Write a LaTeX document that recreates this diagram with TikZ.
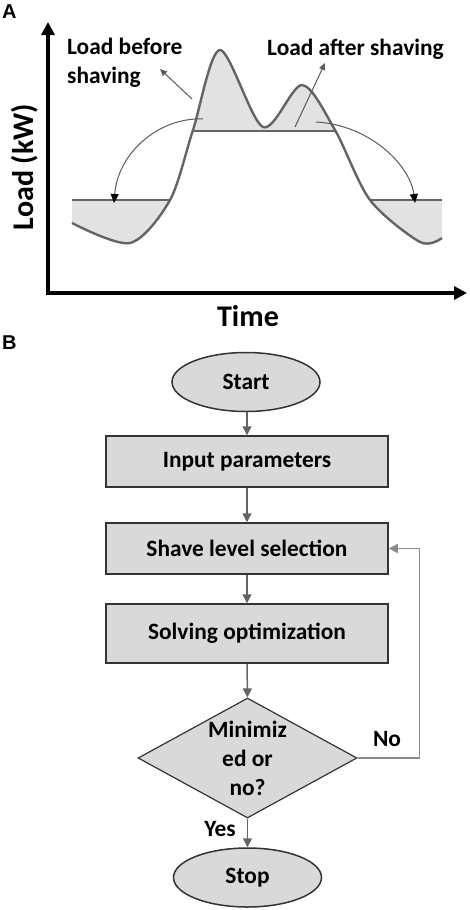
\documentclass[tikz,border=0pt]{standalone}
\usepackage{fontspec}
\setmainfont{Carlito}
\newfontfamily\arialfont{Liberation Sans}
\usetikzlibrary{shapes.geometric,arrows.meta}
\definecolor{boxfill}{RGB}{217,217,217}
\definecolor{boxdraw}{RGB}{51,51,51}
\definecolor{conn}{RGB}{100,100,100}
\definecolor{fbcol}{RGB}{140,140,140}
\definecolor{curvecol}{RGB}{100,100,100}
\definecolor{curvefill}{RGB}{226,226,226}
\definecolor{annot}{RGB}{90,90,90}
\begin{document}
\begin{tikzpicture}[x=1pt,y=-1pt,
  lbl/.style={font=\fontsize{23.4}{29}\selectfont\bfseries},
  biglbl/.style={font=\fontsize{30}{34}\selectfont\bfseries},
  panel/.style={font=\fontsize{20}{24}\selectfont\arialfont\bfseries},
  box/.style={draw=boxdraw, line width=1.5pt, fill=boxfill, minimum width=282pt, minimum height=51pt, inner sep=0pt, lbl},
  term/.style={ellipse, draw=boxdraw, line width=1.5pt, fill=boxfill, minimum width=148pt, minimum height=59pt, inner sep=0pt, lbl},
  decshape/.style={diamond, draw=boxdraw, line width=1.2pt, fill=boxfill, minimum width=219pt, minimum height=120pt, inner sep=0pt},
  flowarrow/.style={draw=conn, line width=1.5pt, -{Triangle[length=9pt,width=9pt]}},
  fbarrow/.style={draw=fbcol, line width=1.5pt, -{Triangle[length=9pt,width=9pt]}},
  axisline/.style={line width=3.5pt, black, {Triangle[length=13pt,width=13pt]}-{Triangle[length=13pt,width=13pt]}},
  levelline/.style={draw=curvecol, line width=2.8pt},
  curveline/.style={draw=curvecol, line width=2.4pt},
  annotarrow/.style={draw=annot, line width=1pt, -{Triangle[length=7pt,width=6pt]}},
  bendarrow/.style={draw=annot, line width=1pt, -{Triangle[length=9pt,width=8pt,color=black]}}
]
\useasboundingbox (0,0) rectangle (470,910);

% ---------- Panel A ----------
\node[panel, anchor=base west, inner sep=0pt] (labA) at (2,18) {A};

% fills
\begin{scope}
\clip (193,0) rectangle (335,131);
\fill[curvefill] plot[smooth] coordinates {(72,223) (130,243) (170,200) (193,130) (220,50) (263,127) (302,85) (335,130) (370,200) (420,242) (442,238)} -- (442,131) -- (72,131) -- cycle;
\end{scope}
\begin{scope}
\clip (72,200) rectangle (170,270) (370,200) rectangle (442,270);
\fill[curvefill] plot[smooth] coordinates {(72,223) (130,243) (170,200) (193,130) (220,50) (263,127) (302,85) (335,130) (370,200) (420,242) (442,238)} -- (442,200) -- (72,200) -- cycle;
\end{scope}

% load curve
\draw[curveline] plot[smooth] coordinates {(72,223) (130,243) (170,200) (193,130) (220,50) (263,127) (302,85) (335,130) (370,200) (420,242) (442,238)};

% shaved levels
\coordinate (l1a) at (72,200);
\coordinate (l1b) at (170,200);
\coordinate (l2a) at (193,131);
\coordinate (l2b) at (335,131);
\coordinate (l3a) at (370,200);
\coordinate (l3b) at (442,200);
\draw[levelline] (l1a) -- (l1b);
\draw[levelline] (l2a) -- (l2b);
\draw[levelline] (l3a) -- (l3b);

% axes
\coordinate (ytop) at (48,22);
\coordinate (origin) at (48,293);
\coordinate (xend) at (467,293);
\draw[axisline] (ytop) -- (origin) -- (xend);

\node[biglbl, rotate=90] (ylab) at (25,167) {Load (kW)};
\node[biglbl] (xlab) at (248,316) {Time};

% annotations
\node[lbl, anchor=north west, align=left, inner sep=0pt] (before) at (67,38) {Load before\\shaving};
\node[lbl, anchor=base west, inner sep=0pt] (after) at (267,55) {Load after shaving};

\coordinate (bA) at (192,99);
\coordinate (bB) at (160,69);
\draw[annotarrow] (bA) -- (bB);
\coordinate (aA) at (295,127);
\coordinate (aB) at (325,63);
\draw[annotarrow] (aA) -- (aB);

\coordinate (c1s) at (203,119);
\coordinate (c1e) at (114,203);
\draw[bendarrow] (c1s) .. controls (160,117) and (118,152) .. (c1e);
\coordinate (c2s) at (316,122);
\coordinate (c2e) at (415,203);
\draw[bendarrow] (c2s) .. controls (370,125) and (410,165) .. (c2e);

% ---------- Panel B ----------
\node[panel, anchor=base west, inner sep=0pt] (labB) at (2,349) {B};

\node[term] (start) at (246,382) {Start};
\node[box] (input) at (247,461.5) {Input parameters};
\node[box] (shave) at (247,548.5) {Shave level selection};
\node[box, minimum height=59pt] (solve) at (247,633.5) {Solving optimization};
\node[decshape] (dec) at (247.5,758) {};
\node[lbl, align=center, inner sep=0pt] (dectext) at (247.5,758) {Minimiz\\ed or\\no?};
\node[term] (stop) at (247.5,877.5) {Stop};

\draw[flowarrow] (start.south -| input.north) -- (input.north);
\draw[flowarrow] (input) -- (shave);
\draw[flowarrow] (shave) -- (solve);
\draw[flowarrow] (solve.south) -- (dec.north);
\draw[flowarrow] (dec.south) -- (stop.north);
\draw[fbarrow] (dec.east) -- ++(62,0) |- (shave.east);

\node[lbl, inner sep=0pt] (nolab) at (387,739) {No};
\node[lbl, inner sep=0pt] (yeslab) at (220,829) {Yes};
\end{tikzpicture}
\end{document}
